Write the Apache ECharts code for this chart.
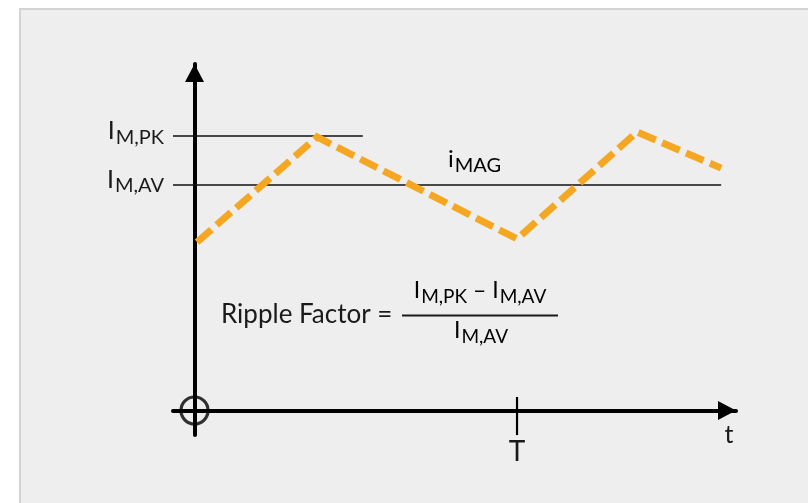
<!DOCTYPE html>
<html><head><meta charset="utf-8">
<script src="https://cdn.jsdelivr.net/npm/echarts@6/dist/echarts.min.js"></script>
<style>html,body{margin:0;padding:0;background:#fff}#c{width:808px;height:503px}</style>
</head><body><div id="c"></div>
<script>
// ---- data ----
const waveX = [0.008, 0.38, 1.0, 1.372, 1.633];
const waveY = [0.747, 1.213, 0.761, 1.235, 1.075];
const levelNames = ['I|M,AV', 'I|M,PK'];
const levelValues = [1.0, 1.217];
const pkLineX = [-0.0667, 0.522];
const avLineX = [-0.0667, 1.633];
const periodTick = [1.0];
const periodLabel = 'T';
const timeLabel = 't';
const tickSpanY = [-0.109, 0.06];
const seriesName = ['i', 'MAG'];
const formulaLeft = 'Ripple Factor =';
const formulaNum = ['I|M,PK', 'I|M,AV'];
const formulaDen = 'I|M,AV';

const FONT = 'Lato, "Open Sans", sans-serif';
const INK = '#1a1a1a';
const sub = (s) => { const [a, b] = s.split('|'); return `{b|${a}}{s|${b}}`; };
const richSub = (big, small, drop) => ({
  b: { fontSize: big, lineHeight: big + 1, verticalAlign: 'top', fontFamily: FONT, color: INK },
  s: { fontSize: small, lineHeight: small + 1, padding: [drop, 0, 0, 1], verticalAlign: 'top', fontFamily: FONT, color: INK },
  m: { fontSize: big, lineHeight: big + 1, verticalAlign: 'top', fontFamily: FONT, color: INK }
});

const chart = echarts.init(document.getElementById('c'), null, { renderer: 'canvas' });
const option = {
  backgroundColor: '#ffffff',
  animation: false,
  grid: { left: 173, right: 72, top: 64, bottom: 68 },
  xAxis: {
    type: 'value', min: -0.0667, max: 1.679,
    splitLine: { show: false },
    axisTick: { show: false },
    axisLine: { onZero: true, symbol: ['none', 'triangle'], symbolSize: [19, 18], symbolOffset: [0, -9],
      lineStyle: { color: '#000', width: 4 } },
    axisLabel: { customValues: periodTick, formatter: () => periodLabel, margin: 3,
      fontSize: 28, fontFamily: FONT, color: INK },
    name: timeLabel, nameLocation: 'end', nameGap: -7,
    nameTextStyle: { fontSize: 25, fontFamily: FONT, color: INK, align: 'center', verticalAlign: 'top', padding: [12, 0, 0, 0] }
  },
  yAxis: {
    type: 'value', min: -0.1086, max: 1.5366,
    splitLine: { show: false },
    axisTick: { show: false },
    axisLine: { onZero: true, symbol: ['none', 'triangle'], symbolSize: [19, 18], symbolOffset: [0, -9],
      lineStyle: { color: '#000', width: 4 } },
    axisLabel: {
      customValues: levelValues, margin: 9,
      formatter: (v) => { const i = levelValues.findIndex(x => Math.abs(x - v) < 1e-6); return sub(levelNames[i]); },
      rich: richSub(25, 20, 9), padding: [0, 0, 10, 0]
    }
  },
  series: [
    { type: 'line', name: 'pk', data: pkLineX.map(x => [x, levelValues[1]]), symbol: 'none',
      lineStyle: { color: '#111', width: 1.6 }, z: 3 },
    { type: 'line', name: 'av', data: avLineX.map(x => [x, levelValues[0]]), symbol: 'none',
      lineStyle: { color: '#111', width: 1.6 }, z: 3 },
    { type: 'line', name: 'iMAG', data: waveX.map((x, i) => [x, waveY[i]]), symbol: 'none',
      lineStyle: { color: '#f6a722', width: 7, type: [19, 7], cap: 'butt', join: 'miter' }, z: 4 },
    { type: 'line', name: 'Ttick', data: tickSpanY.map(y => [periodTick[0], y]), symbol: 'none',
      lineStyle: { color: '#000', width: 2.2 }, z: 3 },
    { type: 'scatter', name: 'origin', data: [[0, 0]], symbol: 'circle', symbolSize: 27,
      itemStyle: { color: 'rgba(0,0,0,0)', borderColor: '#000', borderWidth: 3.2 }, z: 5 }
  ],
  graphic: [
    { type: 'rect', z: -10, shape: { x: 20, y: 9, width: 800, height: 500 },
      style: { fill: '#edeeed', stroke: '#d3d3d3', lineWidth: 2 } },
    { type: 'text', x: 448, y: 147, z: 10,
      style: { text: `{b|${seriesName[0]}}{s|${seriesName[1]}}`, rich: richSub(24, 20, 9) } },
    { type: 'text', x: 221, y: 302, z: 10,
      style: { text: formulaLeft, fontSize: 26, fontFamily: FONT, fill: INK } },
    { type: 'text', x: 480, y: 279, z: 10,
      style: { text: sub(formulaNum[0]) + '{m| – }' + sub(formulaNum[1]), rich: richSub(23, 19, 8), align: 'center' } },
    { type: 'line', z: 10, shape: { x1: 402, y1: 315.5, x2: 558, y2: 315.5 }, style: { stroke: INK, lineWidth: 2.2 } },
    { type: 'text', x: 481, y: 319, z: 10,
      style: { text: sub(formulaDen), rich: richSub(23, 19, 8), align: 'center' } }
  ]
};
chart.setOption(option);
</script></body></html>
